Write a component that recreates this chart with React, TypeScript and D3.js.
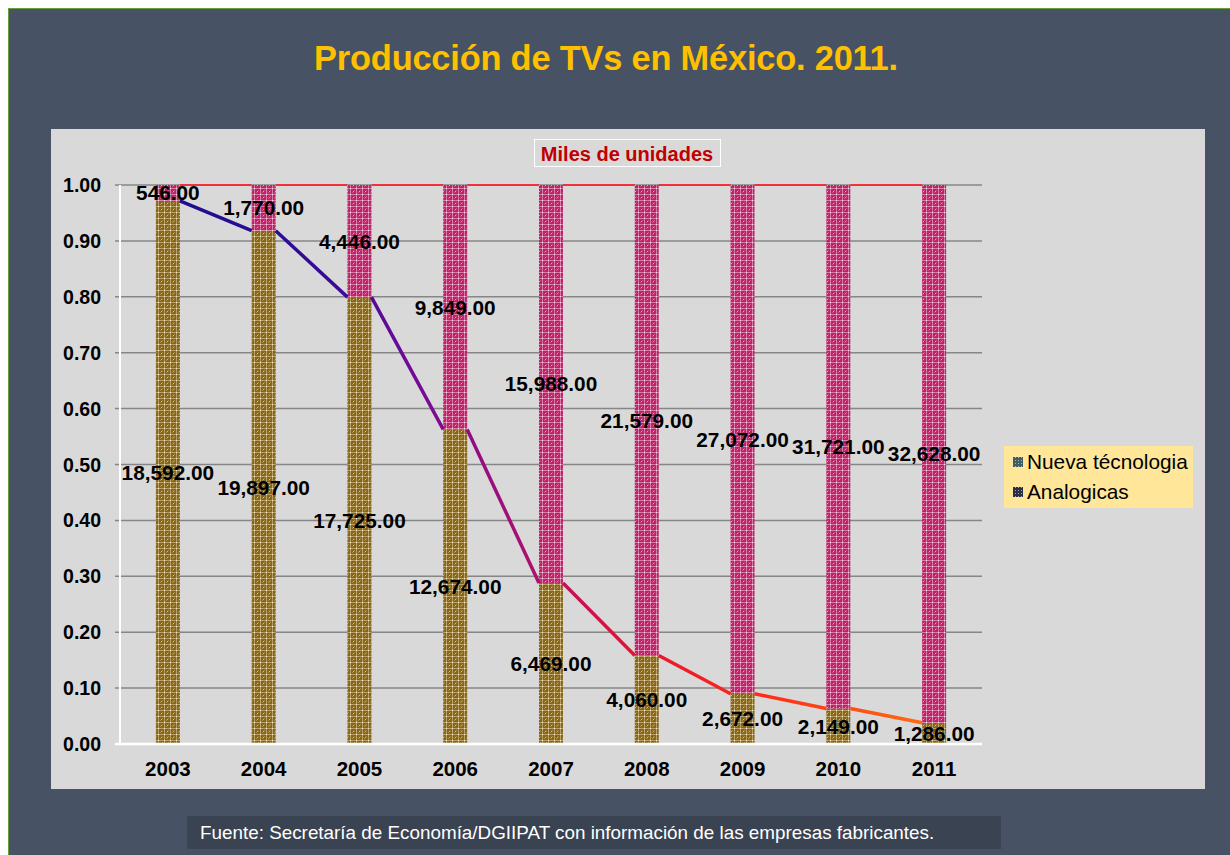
import React, { useEffect } from "react";
import * as d3 from "d3";

const years = ["2003", "2004", "2005", "2006", "2007", "2008", "2009", "2010", "2011"];
const nuevaTecnologia = [546, 1770, 4446, 9849, 15988, 21579, 27072, 31721, 32628];
const analogicas = [18592, 19897, 17725, 12674, 6469, 4060, 2672, 2149, 1286];
const yTicks = [0, 0.1, 0.2, 0.3, 0.4, 0.5, 0.6, 0.7, 0.8, 0.9, 1.0];

const W = 1230;
const H = 855;
const FONT = "'Liberation Sans', Arial, sans-serif";

export default function App() {
  useEffect(() => {
    document.body.style.margin = "0";
    document.body.style.overflow = "hidden";
  }, []);

  const x = d3.scalePoint<string>().domain(years).range([120, 982]).padding(0.5);
  const y = d3.scaleLinear().domain([0, 1]).range([744, 185]);
  const barW = 24;
  const fmt = d3.format(",.2f");

  const rows = years.map((yr, i) => {
    const total = analogicas[i] + nuevaTecnologia[i];
    const share = analogicas[i] / total;
    return { yr, a: analogicas[i], n: nuevaTecnologia[i], share };
  });

  const segs = rows.slice(0, -1).map((r, i) => {
    const nx = rows[i + 1];
    return {
      x1: (x(r.yr) as number) + barW / 2,
      y1: y(r.share),
      x2: (x(nx.yr) as number) - barW / 2,
      y2: y(nx.share),
    };
  });
  const topSegs = rows.slice(0, -1).map((r, i) => ({
    x1: (x(r.yr) as number) + barW / 2,
    x2: (x(rows[i + 1].yr) as number) - barW / 2,
  }));

  const gx1 = (x(years[0]) as number) + barW / 2;
  const gx2 = (x(years[years.length - 1]) as number) - barW / 2;

  return (
    <svg width={W} height={H} style={{ display: "block" }} fontFamily={FONT}>
      <defs>
        <pattern id="patGold" patternUnits="userSpaceOnUse" width="6" height="6">
          <rect width="6" height="6" fill="#85661a" />
          <rect x="0" y="2" width="6" height="1" fill="#bca264" />
          <rect x="2" y="0" width="1" height="6" fill="#bca264" />
          <rect x="2" y="2" width="1" height="1" fill="#f2e8c8" />
          <rect x="5" y="5" width="1" height="1" fill="#d8c490" />
          <rect x="4" y="0" width="1" height="1" fill="#a88a44" />
          <rect x="0" y="4" width="1" height="1" fill="#a88a44" />
        </pattern>
        <pattern id="patPink" patternUnits="userSpaceOnUse" width="6" height="6">
          <rect width="6" height="6" fill="#c0226a" />
          <rect x="0" y="2" width="6" height="1" fill="#df7aa8" />
          <rect x="2" y="0" width="1" height="6" fill="#df7aa8" />
          <rect x="2" y="2" width="1" height="1" fill="#fadce9" />
          <rect x="5" y="5" width="1" height="1" fill="#eaa8c6" />
          <rect x="4" y="0" width="1" height="1" fill="#d0508a" />
          <rect x="0" y="4" width="1" height="1" fill="#d0508a" />
        </pattern>
        <pattern id="patLeg1" patternUnits="userSpaceOnUse" width="3" height="3">
          <rect width="3" height="3" fill="#3f5e62" />
          <rect x="1" y="1" width="1" height="1" fill="#8fc4c4" />
        </pattern>
        <pattern id="patLeg2" patternUnits="userSpaceOnUse" width="3" height="3">
          <rect width="3" height="3" fill="#2a2f45" />
          <rect x="1" y="1" width="1" height="1" fill="#a0a8c8" />
        </pattern>
        <linearGradient id="lineGrad" gradientUnits="userSpaceOnUse" x1={gx1} y1="0" x2={gx2} y2="0">
          <stop offset="0" stopColor="#1b0f8e" />
          <stop offset="0.2" stopColor="#38099a" />
          <stop offset="0.33" stopColor="#7a0a96" />
          <stop offset="0.48" stopColor="#b0106c" />
          <stop offset="0.62" stopColor="#e8142e" />
          <stop offset="0.78" stopColor="#ff2a18" />
          <stop offset="1" stopColor="#ff6a10" />
        </linearGradient>
      </defs>

      <rect x={8.5} y={8.5} width={W} height={H} fill="#475265" stroke="#66a03a" strokeWidth={1} />

      <text x={606} y={70} textAnchor="middle" fontSize={34.4} fontWeight="bold" fill="#ffc000" letterSpacing={-0.2}>
        Producción de TVs en México. 2011.
      </text>

      <rect x={51} y={129} width={1154} height={660} fill="#d9d9d9" />

      <rect x={534.5} y={139.5} width={186} height={27} fill="#d9d9d9" stroke="#ffffff" strokeWidth={1} />
      <text x={627} y={160.5} textAnchor="middle" fontSize={20} fontWeight="bold" fill="#c00000">
        Miles de unidades
      </text>

      {yTicks.map((t) => (
        <line key={t} x1={115} x2={982} y1={y(t)} y2={y(t)} stroke="#868686" strokeWidth={1.5} />
      ))}
      {yTicks.map((t) => (
        <text key={"l" + t} x={101} y={y(t) + 7} textAnchor="end" fontSize={19.5} fontWeight="bold" fill="#000">
          {t.toFixed(2)}
        </text>
      ))}

      {topSegs.map((s, i) => (
        <line key={"t" + i} x1={s.x1} x2={s.x2} y1={y(1)} y2={y(1)} stroke="#f0303a" strokeWidth={2} />
      ))}

      {rows.map((r) => {
        const cx = x(r.yr) as number;
        return (
          <g key={r.yr}>
            <rect x={cx - barW / 2} y={y(r.share)} width={barW} height={y(0) - y(r.share)} fill="url(#patGold)" />
            <rect x={cx - barW / 2} y={y(1)} width={barW} height={y(r.share) - y(1)} fill="url(#patPink)" />
          </g>
        );
      })}

      <line x1={120} x2={120} y1={y(1)} y2={y(0)} stroke="#ffffff" strokeWidth={2} />
      <line x1={115} x2={982} y1={y(0)} y2={y(0)} stroke="#ffffff" strokeWidth={2.5} />

      {segs.map((s, i) => (
        <line key={"s" + i} x1={s.x1} y1={s.y1} x2={s.x2} y2={s.y2} stroke="url(#lineGrad)" strokeWidth={3.5} />
      ))}

      {years.map((yr) => (
        <text key={"x" + yr} x={x(yr) as number} y={776} textAnchor="middle" fontSize={20.5} fontWeight="bold" fill="#000">
          {yr}
        </text>
      ))}

      {rows.map((r) => {
        const cx = x(r.yr) as number;
        return (
          <g key={"d" + r.yr} fontSize={20.8} fontWeight="bold" fill="#000" textAnchor="middle">
            <text x={cx} y={y(r.share / 2) + 7.5}>{fmt(r.a)}</text>
            <text x={cx} y={y((r.share + 1) / 2) + 7.5}>{fmt(r.n)}</text>
          </g>
        );
      })}

      <rect x={1004} y={446} width={189} height={62} fill="#ffe699" />
      <rect x={1013} y={457} width={10} height={10} fill="url(#patLeg1)" />
      <text x={1027} y={469} fontSize={20.8} fill="#000">Nueva técnologia</text>
      <rect x={1013} y={487} width={10} height={10} fill="url(#patLeg2)" />
      <text x={1027} y={499} fontSize={20.8} fill="#000">Analogicas</text>

      <rect x={187} y={816} width={814} height={33} fill="#3a4352" />
      <text x={200} y={838.5} fontSize={18.85} fill="#ffffff">
        Fuente: Secretaría de Economía/DGIIPAT con información de las empresas fabricantes.
      </text>
    </svg>
  );
}
